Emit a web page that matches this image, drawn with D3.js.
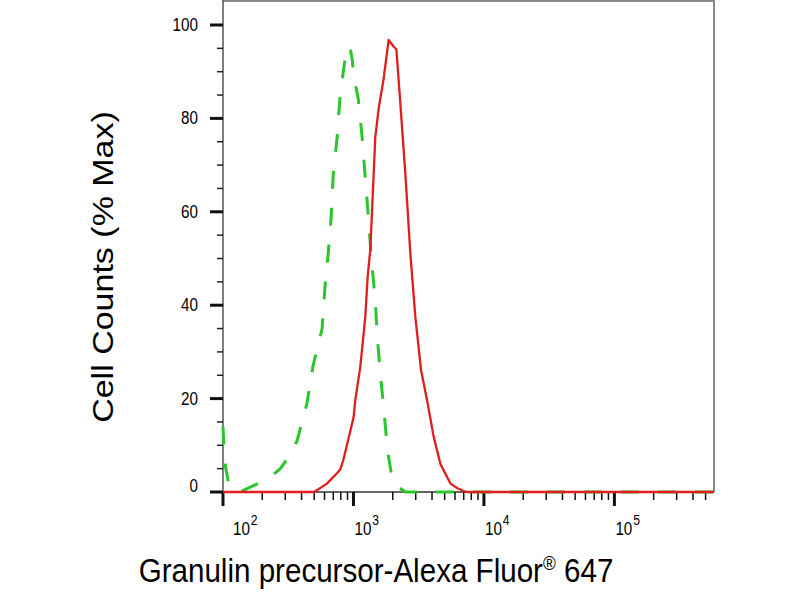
<!DOCTYPE html>
<html>
<head>
<meta charset="utf-8">
<script src="https://cdn.jsdelivr.net/npm/d3@7"></script>
<style>
  body { margin: 0; background: #fff; }
  text { font-family: "Liberation Sans", Arial, sans-serif; fill: #000; }
</style>
</head>
<body>
<script>
// Canvas size
const WIDTH = 800;
const HEIGHT = 600;

// Tick labels
const xTickValues = [1e2, 1e3, 1e4, 1e5];
const xTickExponents = ["2", "3", "4", "5"];
const yTickValues = [0, 20, 40, 60, 80, 100];
const yMinorStep = 5;

// Isotype control (green dashed)
const isotypeIntensity = [100, 102, 105, 111, 120, 142, 160, 192, 230, 275, 327, 370, 440, 490,
  575, 605, 640, 675, 700, 750, 790, 865, 937, 980, 995, 1090, 1165, 1230, 1300, 1370, 1470,
  1525, 1610, 1720, 1820, 1950, 2090, 2500, 580000];
const isotypePercent = [14, 9, 5, 1.5, 0.3, 0.3, 1, 2, 3.2, 5, 8, 11, 19, 27,
  35, 44, 51, 59, 68, 76, 85, 93, 95.5, 92.5, 90, 84, 76, 67.5, 59, 50, 41,
  33, 25, 17, 9, 4, 1.5, 0, 0];

// Granulin precursor stained sample (red solid)
const stainedIntensity = [100, 500, 626, 747, 792, 835, 945, 1002, 1032, 1128, 1232, 1284, 1346,
  1387, 1470, 1559, 1703, 1861, 2030, 2132, 2290, 2500, 2730, 2980, 3300, 3670, 4120, 4640,
  5540, 6270, 7000, 7500, 580000];
const stainedPercent = [0, 0, 1.8, 4, 4.8, 6.8, 13, 16, 19.6, 26.8, 37.5, 46, 52,
  60, 76, 82, 88.5, 96.8, 95.4, 94.8, 83, 68, 51, 37.5, 26, 19.6, 11.8, 6,
  1.8, 0.8, 0.2, 0, 0];

const xDomain = [100, 580000];
const yDomain = [0, 100];
const TEXT_SQUEEZE = 0.87;

function initCanvas() {
  return d3.select('body')
    .append('svg')
    .attr('width', WIDTH)
    .attr('height', HEIGHT);
}

function main() {
  const svg = initCanvas();

  const x = d3.scaleLog().domain(xDomain).range([223, 714]);
  const y = d3.scaleLinear().domain(yDomain).range([492, 25]);
  const x0 = x.range()[0], x1 = x.range()[1];
  const yBase = y(0);

  // frame
  svg.append('line').attr('x1', x0).attr('x2', x1).attr('y1', 1).attr('y2', 1)
    .attr('stroke', '#8a8a8a').attr('stroke-width', 2);
  svg.append('line').attr('x1', x1).attr('x2', x1).attr('y1', 0).attr('y2', yBase)
    .attr('stroke', '#8a8a8a').attr('stroke-width', 2);
  svg.append('line').attr('x1', x0).attr('x2', x0).attr('y1', 0).attr('y2', yBase)
    .attr('stroke', '#555').attr('stroke-width', 1.5);
  svg.append('line').attr('x1', x0).attr('x2', x1).attr('y1', yBase).attr('y2', yBase)
    .attr('stroke', '#333').attr('stroke-width', 1.5);

  // y ticks
  const yTicks = d3.range(yDomain[0], 105, yMinorStep);
  svg.append('g').selectAll('line').data(yTicks).join('line')
    .attr('x1', d => d % 20 === 0 ? x0 - 13 : x0 - 6)
    .attr('x2', x0)
    .attr('y1', d => y(d)).attr('y2', d => y(d))
    .attr('stroke', d => d % 20 === 0 ? '#111' : '#222')
    .attr('stroke-width', d => d % 20 === 0 ? 3 : 1.5);

  svg.append('g').selectAll('text').data(yTickValues).join('text')
    .attr('transform', d => `translate(198,${y(d) + (d === 0 ? 0 : 6)}) scale(${TEXT_SQUEEZE},1)`)
    .attr('text-anchor', 'end')
    .attr('font-size', 17.5)
    .text(d => d);

  // x ticks (decades and minors)
  const xTicks = [];
  for (let dec = 100; dec <= 1e5; dec *= 10) {
    for (let m = 1; m <= 9; m++) {
      const v = m * dec;
      if (v >= xDomain[0] && v <= xDomain[1]) xTicks.push({ v, major: m === 1 });
    }
  }
  svg.append('g').selectAll('line').data(xTicks).join('line')
    .attr('x1', d => x(d.v)).attr('x2', d => x(d.v))
    .attr('y1', yBase)
    .attr('y2', d => d.major ? yBase + 14 : yBase + 8)
    .attr('stroke', '#111')
    .attr('stroke-width', d => d.major ? 3 : 1.5);

  const xLab = svg.append('g').selectAll('text').data(xTickValues).join('text')
    .attr('transform', d => `translate(${Math.max(x(d) + 1, x0 + 10)},535) scale(${TEXT_SQUEEZE},1)`)
    .attr('font-size', 17.5);
  xLab.append('tspan').text('10');
  xLab.append('tspan').attr('dx', 1).attr('dy', -10).attr('font-size', 14)
    .text((d, i) => xTickExponents[i]);

  // curves
  const line = d3.line().x(d => x(d[0])).y(d => y(d[1]));
  const isotype = isotypeIntensity.map((v, i) => [v, isotypePercent[i]]);
  const stained = stainedIntensity.map((v, i) => [v, stainedPercent[i]]);

  svg.append('path').datum(isotype)
    .attr('d', line)
    .attr('fill', 'none')
    .attr('stroke', '#2cc52c')
    .attr('stroke-width', 3)
    .attr('stroke-dasharray', '18,19');

  svg.append('path').datum(stained)
    .attr('d', line)
    .attr('fill', 'none')
    .attr('stroke', '#e01e1e')
    .attr('stroke-width', 2.3)
    .attr('stroke-linejoin', 'round');

  // axis titles
  svg.append('text')
    .attr('transform', `translate(113,267) scale(${TEXT_SQUEEZE},1) rotate(-90)`)
    .attr('text-anchor', 'middle')
    .attr('font-size', 34)
    .text('Cell Counts (% Max)');

  const xTitle = svg.append('text')
    .attr('transform', `translate(376,582) scale(${TEXT_SQUEEZE},1)`)
    .attr('text-anchor', 'middle')
    .attr('font-size', 34);
  xTitle.append('tspan').text('Granulin precursor-Alexa Fluor');
  xTitle.append('tspan').attr('font-size', 20).attr('dy', -12).text('®');
  xTitle.append('tspan').attr('dy', 12).text(' 647');
}

main();
</script>
</body>
</html>
